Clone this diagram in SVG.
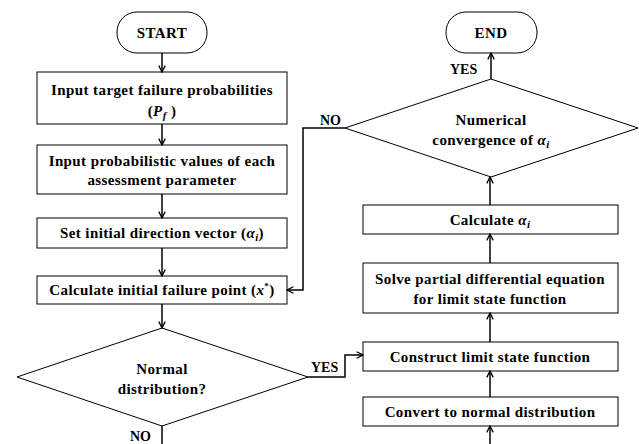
<svg xmlns="http://www.w3.org/2000/svg" width="639" height="444" viewBox="0 0 639 444">
<defs>
<marker id="ah" viewBox="0 0 10 10" refX="9" refY="5" markerWidth="8" markerHeight="8" markerUnits="userSpaceOnUse" orient="auto">
<path d="M1,1 L9,5 L1,9" fill="none" stroke="#000" stroke-width="1.6"/>
</marker>
<style>
.b{fill:#fff;stroke:#000;stroke-width:1}
.t{font-size:15px;letter-spacing:0.4px;text-anchor:middle}
.l{font-size:14px}
.c{fill:none;stroke:#000;stroke-width:1.5}
.m{font-style:italic}
</style>
</defs>
<rect width="639" height="444" fill="#fff"/>
<g font-family="Liberation Serif, Times New Roman, serif" font-weight="bold" fill="#000">
<g id="start"><rect class="b" x="117" y="12" width="90" height="41" rx="20"/><text class="t" x="162" y="38">START</text></g>
<g id="input-pf"><rect class="b" x="37" y="72" width="250" height="52"/><text class="t" x="162" y="95">Input target failure probabilities</text><text class="t" x="162" y="116">(<tspan class="m">P</tspan><tspan class="m" font-size="11" dy="3">f</tspan><tspan dy="-3"> )</tspan></text></g>
<g id="input-prob"><rect class="b" x="37" y="145" width="250" height="49"/><text class="t" x="162" y="166">Input probabilistic values of each</text><text class="t" x="162" y="185">assessment parameter</text></g>
<g id="set-alpha"><rect class="b" x="37" y="218" width="250" height="30"/><text class="t" x="162" y="238">Set initial direction vector (<tspan class="m">α</tspan><tspan class="m" font-size="11" dy="3">i</tspan><tspan dy="-3">)</tspan></text></g>
<g id="calc-x"><rect class="b" x="37" y="276" width="250" height="28"/><text class="t" x="162" y="295">Calculate initial failure point (<tspan class="m">x</tspan><tspan font-size="9" dy="-6">*</tspan><tspan dy="6">)</tspan></text></g>
<g id="normal"><polygon class="b" points="162,328 308,377 162,426 17,377"/><text class="t" x="162" y="374">Normal</text><text class="t" x="162" y="394">distribution?</text></g>
<g id="end"><rect class="b" x="446" y="12" width="91" height="41" rx="20"/><text class="t" x="491" y="38">END</text></g>
<g id="converge"><polygon class="b" points="491,79 638,128 491,177 345,128"/><text class="t" x="491" y="125">Numerical</text><text class="t" x="491" y="145">convergence of <tspan class="m">α</tspan><tspan class="m" font-size="11" dy="3">i</tspan></text></g>
<g id="calc-alpha"><rect class="b" x="363" y="205" width="255" height="29"/><text class="t" x="490" y="225">Calculate <tspan class="m">α</tspan><tspan class="m" font-size="11" dy="3">i</tspan></text></g>
<g id="solve"><rect class="b" x="363" y="263" width="255" height="50"/><text class="t" x="490" y="284">Solve partial differential equation</text><text class="t" x="490" y="304">for limit state function</text></g>
<g id="construct"><rect class="b" x="363" y="342" width="255" height="29"/><text class="t" x="490" y="362">Construct limit state function</text></g>
<g id="convert"><rect class="b" x="363" y="397" width="255" height="29"/><text class="t" x="490" y="417">Convert to normal distribution</text></g>
<g id="connectors">
<line class="c" x1="162" y1="53" x2="162" y2="72" marker-end="url(#ah)"/>
<line class="c" x1="162" y1="124" x2="162" y2="145" marker-end="url(#ah)"/>
<line class="c" x1="162" y1="194" x2="162" y2="218" marker-end="url(#ah)"/>
<line class="c" x1="162" y1="248" x2="162" y2="276" marker-end="url(#ah)"/>
<line class="c" x1="162" y1="304" x2="162" y2="328" marker-end="url(#ah)"/>
<line class="c" x1="162" y1="426" x2="162" y2="444"/>
<polyline class="c" points="308,377 345,377 345,355 363,355" marker-end="url(#ah)"/>
<line class="c" x1="490" y1="444" x2="490" y2="426" marker-end="url(#ah)"/>
<line class="c" x1="490" y1="397" x2="490" y2="371" marker-end="url(#ah)"/>
<line class="c" x1="490" y1="342" x2="490" y2="313" marker-end="url(#ah)"/>
<line class="c" x1="490" y1="263" x2="490" y2="234" marker-end="url(#ah)"/>
<line class="c" x1="490" y1="205" x2="490" y2="177" marker-end="url(#ah)"/>
<line class="c" x1="491" y1="79" x2="491" y2="53" marker-end="url(#ah)"/>
<polyline class="c" points="345,128 303,128 303,290 287,290" marker-end="url(#ah)"/>
<text class="l" x="311" y="372">YES</text>
<text class="l" x="130" y="441">NO</text>
<text class="l" x="450" y="74">YES</text>
<text class="l" x="320" y="125">NO</text>
</g>
</g>
</svg>
